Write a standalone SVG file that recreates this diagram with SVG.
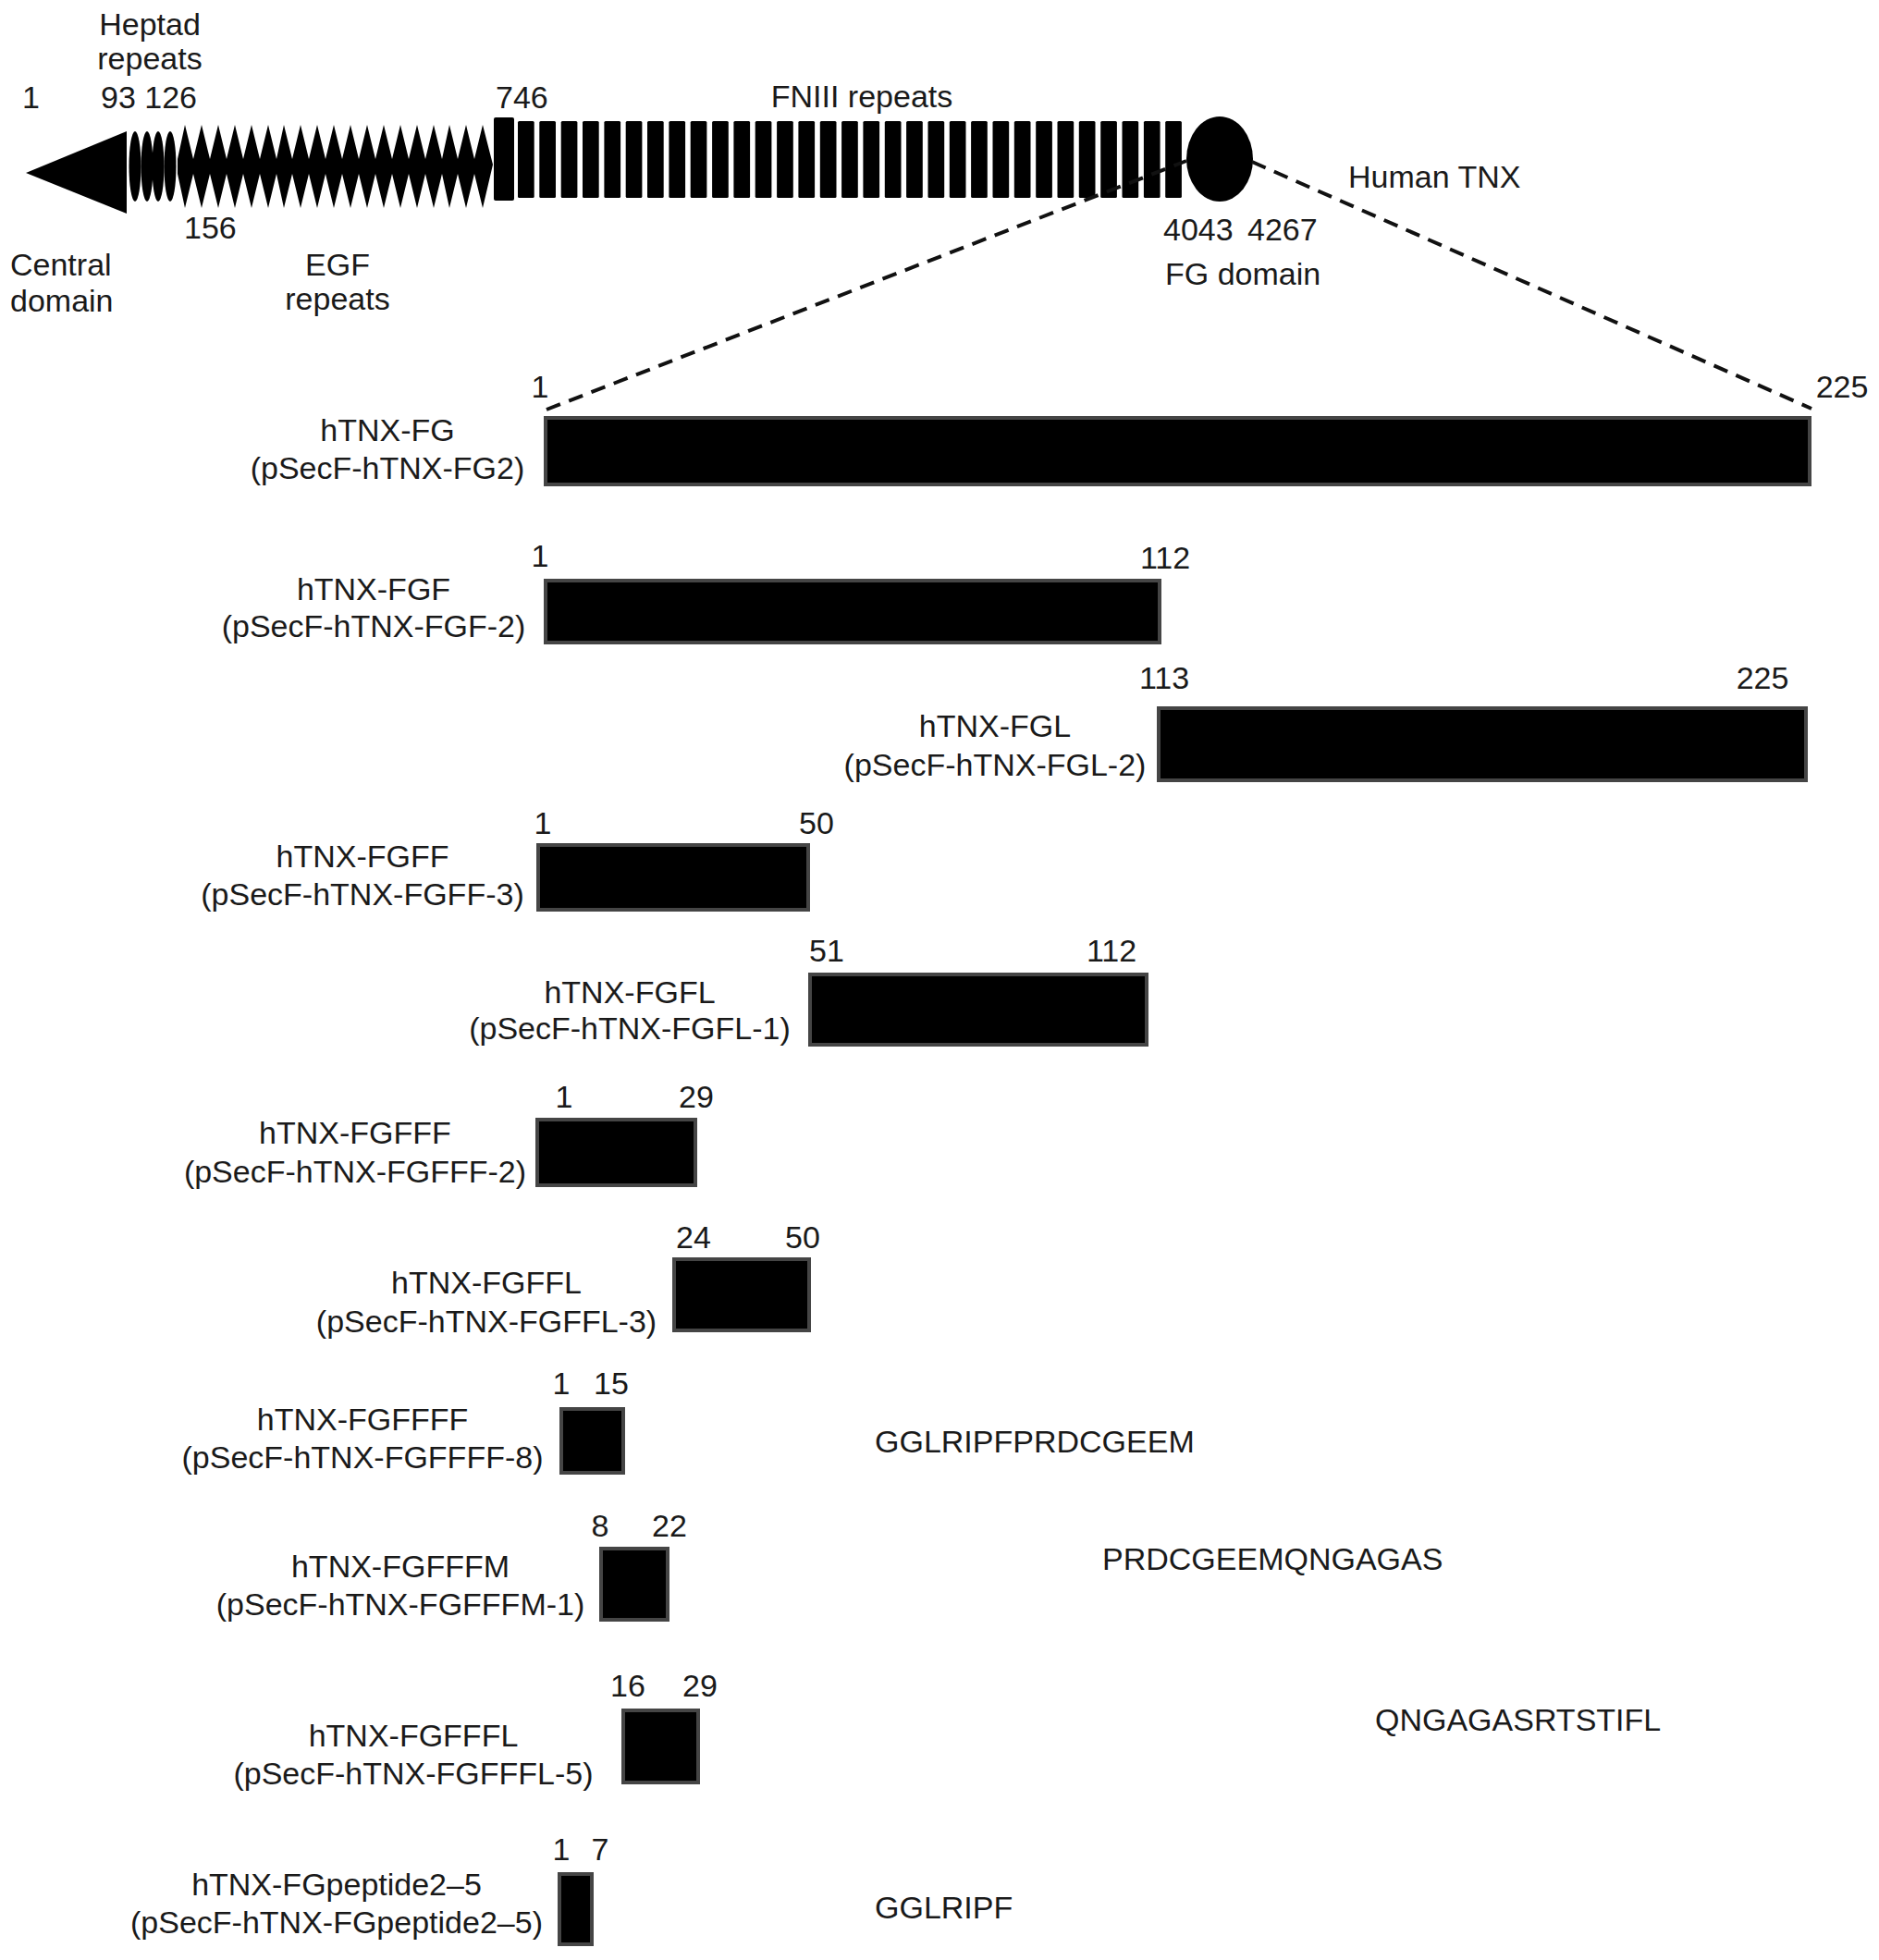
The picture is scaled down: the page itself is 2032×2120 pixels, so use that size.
<svg xmlns="http://www.w3.org/2000/svg" width="2032" height="2120" viewBox="0 0 2032 2120">
<style>
text{font-family:"Liberation Sans",Arial,sans-serif;font-size:34px;fill:#1a1a1a}
.m{text-anchor:middle}
.bar{fill:#000;stroke:#454545;stroke-width:4}
.dash{fill:none;stroke:#111;stroke-width:4;stroke-dasharray:16 10}
.blk{fill:#000}
</style>
<rect width="2032" height="2120" fill="#fff"/>
<g id="tnx-domain">
  <polygon id="central-domain" class="blk" points="28,187 137,142 137,231"/>
  <g id="heptad">
    <ellipse class="blk" cx="146" cy="180" rx="6.5" ry="38"/>
    <ellipse class="blk" cx="159" cy="180" rx="6.5" ry="38"/>
    <ellipse class="blk" cx="171" cy="180" rx="6.5" ry="38"/>
    <ellipse class="blk" cx="184" cy="180" rx="6.5" ry="38"/>
  </g>
  <path id="egf" class="blk" d="M192,172 L200,135 L209,172 L218,135 L227,172 L236,135 L245,172 L254,135 L263,172 L272,135 L281,172 L290,135 L299,172 L307,135 L316,172 L325,135 L334,172 L343,135 L352,172 L361,135 L370,172 L379,135 L388,172 L397,135 L406,172 L415,135 L424,172 L433,135 L442,172 L451,135 L460,172 L469,135 L478,172 L486,135 L495,172 L504,135 L513,172 L522,135 L533,178 L522,225 L513,188 L504,225 L495,188 L486,225 L478,188 L469,225 L460,188 L451,225 L442,188 L433,225 L424,188 L415,225 L406,188 L397,225 L388,188 L379,225 L370,188 L361,225 L352,188 L343,225 L334,188 L325,225 L316,188 L307,225 L299,188 L290,225 L281,188 L272,225 L263,188 L254,225 L245,188 L236,225 L227,188 L218,225 L209,188 L200,225 L192,188 Z"/>
  <g id="fniii" class="blk">
    <rect x="534" y="127" width="22" height="90" rx="2"/>
    <rect x="560" y="131" width="17.7" height="83" rx="1.5"/>
    <rect x="583.3" y="131" width="17.7" height="83" rx="1.5"/>
    <rect x="606.7" y="131" width="17.7" height="83" rx="1.5"/>
    <rect x="630" y="131" width="17.7" height="83" rx="1.5"/>
    <rect x="653.4" y="131" width="17.7" height="83" rx="1.5"/>
    <rect x="676.7" y="131" width="17.7" height="83" rx="1.5"/>
    <rect x="700" y="131" width="17.7" height="83" rx="1.5"/>
    <rect x="723.4" y="131" width="17.7" height="83" rx="1.5"/>
    <rect x="746.7" y="131" width="17.7" height="83" rx="1.5"/>
    <rect x="770.1" y="131" width="17.7" height="83" rx="1.5"/>
    <rect x="793.4" y="131" width="17.7" height="83" rx="1.5"/>
    <rect x="816.7" y="131" width="17.7" height="83" rx="1.5"/>
    <rect x="840.1" y="131" width="17.7" height="83" rx="1.5"/>
    <rect x="863.4" y="131" width="17.7" height="83" rx="1.5"/>
    <rect x="886.8" y="131" width="17.7" height="83" rx="1.5"/>
    <rect x="910.1" y="131" width="17.7" height="83" rx="1.5"/>
    <rect x="933.4" y="131" width="17.7" height="83" rx="1.5"/>
    <rect x="956.8" y="131" width="17.7" height="83" rx="1.5"/>
    <rect x="980.1" y="131" width="17.7" height="83" rx="1.5"/>
    <rect x="1003.5" y="131" width="17.7" height="83" rx="1.5"/>
    <rect x="1026.8" y="131" width="17.7" height="83" rx="1.5"/>
    <rect x="1050.1" y="131" width="17.7" height="83" rx="1.5"/>
    <rect x="1073.5" y="131" width="17.7" height="83" rx="1.5"/>
    <rect x="1096.8" y="131" width="17.7" height="83" rx="1.5"/>
    <rect x="1120.2" y="131" width="17.7" height="83" rx="1.5"/>
    <rect x="1143.5" y="131" width="17.7" height="83" rx="1.5"/>
    <rect x="1166.8" y="131" width="17.7" height="83" rx="1.5"/>
    <rect x="1190.2" y="131" width="17.7" height="83" rx="1.5"/>
    <rect x="1213.5" y="131" width="17.7" height="83" rx="1.5"/>
    <rect x="1236.9" y="131" width="17.7" height="83" rx="1.5"/>
    <rect x="1260.2" y="131" width="17.7" height="83" rx="1.5"/>
  </g>
  <ellipse id="fg-domain" class="blk" cx="1319" cy="172" rx="36" ry="46"/>
  <g id="top-labels">
    <text class="m" x="162" y="38">Heptad</text>
    <text class="m" x="162" y="75">repeats</text>
    <text x="24" y="117">1</text>
    <text x="109" y="117">93 126</text>
    <text x="536" y="117">746</text>
    <text class="m" x="932" y="116">FNIII repeats</text>
    <text x="199" y="258">156</text>
    <text x="11" y="298">Central</text>
    <text x="11" y="337">domain</text>
    <text class="m" x="365" y="298">EGF</text>
    <text class="m" x="365" y="335">repeats</text>
    <text x="1258" y="260">4043</text>
    <text x="1349" y="260">4267</text>
    <text x="1260" y="308">FG domain</text>
    <text x="1458" y="203">Human TNX</text>
  </g>
</g>
<g id="connectors">
  <line class="dash" x1="591" y1="443" x2="1283" y2="174"/>
  <line class="dash" x1="1354" y1="175" x2="1959" y2="442"/>
</g>
<g id="hTNX-FG">
  <rect class="bar" x="590" y="452" width="1367" height="72"/>
  <text class="m" x="584" y="430">1</text>
  <text class="m" x="1992" y="430">225</text>
  <text class="m" x="419" y="477">hTNX-FG</text>
  <text class="m" x="419" y="518">(pSecF-hTNX-FG2)</text>
</g>
<g id="hTNX-FGF">
  <rect class="bar" x="590" y="628" width="664" height="67"/>
  <text class="m" x="584" y="613">1</text>
  <text class="m" x="1260" y="615">112</text>
  <text class="m" x="404" y="649">hTNX-FGF</text>
  <text class="m" x="404" y="689">(pSecF-hTNX-FGF-2)</text>
</g>
<g id="hTNX-FGL">
  <rect class="bar" x="1253" y="766" width="700" height="78"/>
  <text class="m" x="1259" y="745">113</text>
  <text class="m" x="1906" y="745">225</text>
  <text class="m" x="1076" y="797">hTNX-FGL</text>
  <text class="m" x="1076" y="839">(pSecF-hTNX-FGL-2)</text>
</g>
<g id="hTNX-FGFF">
  <rect class="bar" x="582" y="914" width="292" height="70"/>
  <text class="m" x="587" y="902">1</text>
  <text class="m" x="883" y="902">50</text>
  <text class="m" x="392" y="938">hTNX-FGFF</text>
  <text class="m" x="392" y="979">(pSecF-hTNX-FGFF-3)</text>
</g>
<g id="hTNX-FGFL">
  <rect class="bar" x="876" y="1054" width="364" height="76"/>
  <text class="m" x="894" y="1040">51</text>
  <text class="m" x="1202" y="1040">112</text>
  <text class="m" x="681" y="1085">hTNX-FGFL</text>
  <text class="m" x="681" y="1124">(pSecF-hTNX-FGFL-1)</text>
</g>
<g id="hTNX-FGFFF">
  <rect class="bar" x="581" y="1211" width="171" height="71"/>
  <text class="m" x="610" y="1198">1</text>
  <text class="m" x="753" y="1198">29</text>
  <text class="m" x="384" y="1237">hTNX-FGFFF</text>
  <text class="m" x="384" y="1279">(pSecF-hTNX-FGFFF-2)</text>
</g>
<g id="hTNX-FGFFL">
  <rect class="bar" x="729" y="1362" width="146" height="77"/>
  <text class="m" x="750" y="1350">24</text>
  <text class="m" x="868" y="1350">50</text>
  <text class="m" x="526" y="1399">hTNX-FGFFL</text>
  <text class="m" x="526" y="1441">(pSecF-hTNX-FGFFL-3)</text>
</g>
<g id="hTNX-FGFFFF">
  <rect class="bar" x="607" y="1524" width="67" height="69"/>
  <text class="m" x="607" y="1508">1</text>
  <text class="m" x="661" y="1508">15</text>
  <text class="m" x="392" y="1547">hTNX-FGFFFF</text>
  <text class="m" x="392" y="1588">(pSecF-hTNX-FGFFFF-8)</text>
  <text x="946" y="1571">GGLRIPFPRDCGEEM</text>
</g>
<g id="hTNX-FGFFFM">
  <rect class="bar" x="650" y="1675" width="72" height="77"/>
  <text class="m" x="649" y="1662">8</text>
  <text class="m" x="724" y="1662">22</text>
  <text class="m" x="433" y="1706">hTNX-FGFFFM</text>
  <text class="m" x="433" y="1747">(pSecF-hTNX-FGFFFM-1)</text>
  <text x="1192" y="1698">PRDCGEEMQNGAGAS</text>
</g>
<g id="hTNX-FGFFFL">
  <rect class="bar" x="674" y="1850" width="81" height="78"/>
  <text class="m" x="679" y="1835">16</text>
  <text class="m" x="757" y="1835">29</text>
  <text class="m" x="447" y="1889">hTNX-FGFFFL</text>
  <text class="m" x="447" y="1930">(pSecF-hTNX-FGFFFL-5)</text>
  <text x="1487" y="1872">QNGAGASRTSTIFL</text>
</g>
<g id="hTNX-FGpeptide2-5">
  <rect class="bar" x="605" y="2027" width="35" height="76"/>
  <text class="m" x="607" y="2012">1</text>
  <text class="m" x="649" y="2012">7</text>
  <text class="m" x="364" y="2050">hTNX-FGpeptide2–5</text>
  <text class="m" x="364" y="2091">(pSecF-hTNX-FGpeptide2–5)</text>
  <text x="946" y="2075">GGLRIPF</text>
</g>
</svg>
